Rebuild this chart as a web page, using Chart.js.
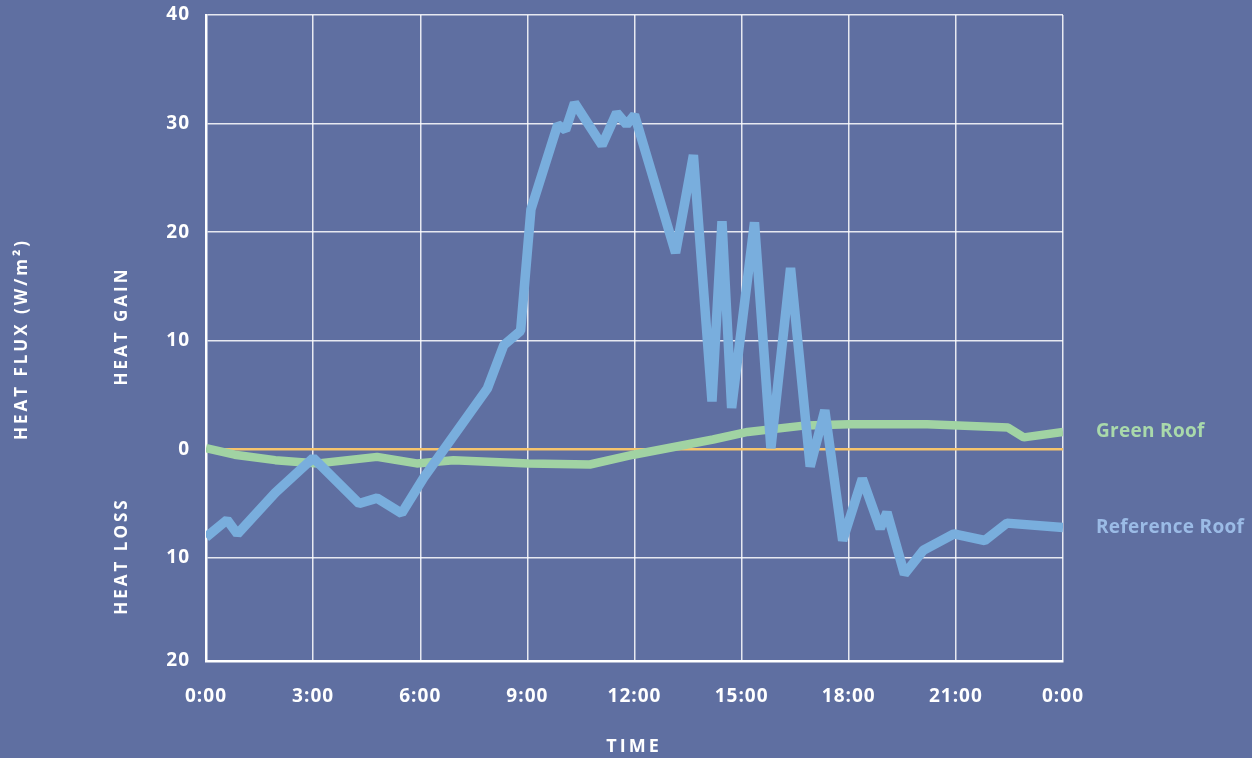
<!DOCTYPE html>
<html>
<head>
<meta charset="utf-8">
<script src="https://cdn.jsdelivr.net/npm/chart.js@4"></script>
<style>
  html, body { margin: 0; padding: 0; background: #5f6fa1; }
  #wrap { width: 1252px; height: 758px; }
</style>
</head>
<body>
<div id="wrap"><canvas id="chart" width="1252" height="758"></canvas></div>
<script>
// hours of day and heat flux (W/m2)
const refHours = [0, 0.59, 0.88, 1.94, 3.0, 4.29, 4.79, 5.48, 6.1, 7.88, 8.34, 8.81, 9.1, 9.85, 10.07, 10.32,
  11.09, 11.5, 11.78, 12.0, 13.15, 13.65, 14.17, 14.45, 14.72, 15.36, 15.82, 16.37, 16.92, 17.33,
  17.83, 18.38, 18.88, 19.07, 19.56, 20.09, 20.94, 21.81, 22.43, 24];
const refFlux = [-8.1, -6.5, -7.8, -4.0, -0.8, -5.0, -4.5, -5.9, -2.6, 5.6, 9.6, 10.9, 22.1, 29.9, 29.4, 31.9,
  28.0, 31.0, 29.9, 30.8, 18.1, 27.1, 4.4, 21.0, 3.8, 20.9, 0.1, 16.7, -1.6, 3.6,
  -8.4, -2.7, -7.3, -5.8, -11.5, -9.3, -7.8, -8.4, -6.8, -7.2];

const greenHours = [0, 0.8, 1.94, 3.14, 4.79, 5.9, 6.93, 9.03, 10.75, 11.97, 14.2, 15.17, 16.8, 18.0, 20.2, 22.46, 22.9, 24];
const greenFlux = [0.1, -0.5, -1.0, -1.3, -0.7, -1.3, -1.0, -1.3, -1.4, -0.5, 0.9, 1.6, 2.2, 2.3, 2.3, 2.0, 1.1, 1.6];

const timeTicks = ['0:00', '3:00', '6:00', '9:00', '12:00', '15:00', '18:00', '21:00', '0:00'];
// the original's bottom edge sits a little above -20 but is labelled 20
const yMin = -19.5;

const tickFont = { family: 'Open Sans', size: 19, weight: 'bold' };

const labelsPlugin = {
  id: 'labels',
  beforeDraw(chart) {
    chart.ctx.letterSpacing = '1px'; // tick labels are a bit spaced out
  },
  beforeDatasetsDraw(chart) {
    chart.ctx.letterSpacing = '0px';
  },
  afterDraw(chart) {
    const { ctx, chartArea, scales } = chart;
    ctx.save();
    ctx.font = 'bold 17px "Open Sans"';
    ctx.fillStyle = '#ffffff';
    ctx.textAlign = 'center';
    ctx.textBaseline = 'middle';
    ctx.letterSpacing = '3px';

    function vertical(text, x, y) {
      ctx.save();
      ctx.translate(x, y);
      ctx.rotate(-Math.PI / 2);
      ctx.fillText(text, 0, 0);
      ctx.restore();
    }
    vertical('HEAT FLUX (W/m²)', 22, 339);
    vertical('HEAT GAIN', 122, 326);
    vertical('HEAT LOSS', 122, 556);

    ctx.font = 'bold 18px "Open Sans"';
    ctx.fillText('TIME', 634, 747);

    // series names at the end of each line
    ctx.letterSpacing = '0.3px';
    ctx.textAlign = 'left';
    ctx.font = 'bold 19px "Open Sans"';
    chart.data.datasets.forEach(ds => {
      const last = ds.data[ds.data.length - 1];
      ctx.fillStyle = ds.labelColor;
      ctx.fillText(ds.label, chartArea.right + 33, scales.y.getPixelForValue(last.y));
    });
    ctx.restore();
  }
};

new Chart(document.getElementById('chart'), {
  type: 'line',
  data: {
    datasets: [
      {
        label: 'Reference Roof',
        data: refHours.map((h, i) => ({ x: h, y: refFlux[i] })),
        borderColor: '#79aedd',
        labelColor: '#9bbbe6',
        borderWidth: 9.5,
        borderJoinStyle: 'bevel',
        pointRadius: 0,
        tension: 0
      },
      {
        label: 'Green Roof',
        data: greenHours.map((h, i) => ({ x: h, y: greenFlux[i] })),
        borderColor: '#a1d3a3',
        labelColor: '#a9d9ab',
        borderWidth: 8.5,
        borderJoinStyle: 'bevel',
        pointRadius: 0,
        tension: 0
      }
    ]
  },
  options: {
    responsive: false,
    animation: false,
    layout: { padding: { top: 15, right: 189, bottom: 0, left: 0 } },
    plugins: { legend: { display: false }, tooltip: { enabled: false } },
    scales: {
      x: {
        type: 'linear',
        min: 0,
        max: 24,
        afterFit: s => { s.height = 97; },
        ticks: {
          stepSize: 3,
          padding: 24,
          color: '#ffffff',
          font: tickFont,
          callback: v => timeTicks[v / 3]
        },
        grid: { color: 'rgba(255,255,255,0.85)', lineWidth: 1.5, drawTicks: false },
        border: { display: true, color: '#ffffff', width: 2.5 }
      },
      y: {
        min: yMin,
        max: 40,
        afterFit: s => { s.width = 206; s.paddingTop = 0; s.paddingBottom = 0; },
        ticks: {
          stepSize: 10,
          padding: 16,
          color: '#ffffff',
          font: tickFont,
          callback: v => String(Math.round(Math.abs(v) / 10) * 10)
        },
        grid: {
          color: c => c.tick && c.tick.value === 0 ? '#f6c46c' : 'rgba(255,255,255,0.85)',
          lineWidth: c => c.tick && c.tick.value === 0 ? 2.5 : 1.5,
          drawTicks: false
        },
        border: { display: true, color: '#ffffff', width: 2.5 }
      }
    }
  },
  plugins: [labelsPlugin]
});
</script>
</body>
</html>
